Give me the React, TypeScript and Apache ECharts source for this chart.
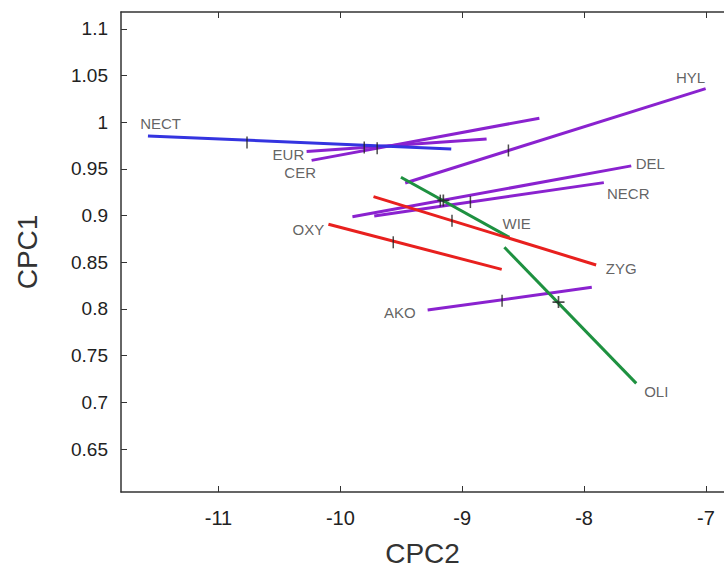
import React, { useEffect, useRef } from "react";
import * as echarts from "echarts";

// Groups (lines), in drawing order
const groups = ["EUR", "CER", "HYL", "DEL", "NECR", "AKO", "WIE", "OLI", "ZYG", "OXY", "NECT"];
const groupColor = ["purple", "purple", "purple", "purple", "purple", "purple", "green", "green", "red", "red", "blue"];

// Line end points (CPC2 = x, CPC1 = y)
const startX = [-10.277, -10.236, -9.468, -9.901, -9.722, -9.284, -9.503, -8.654, -9.728, -10.098, -11.579];
const startY = [0.9685, 0.9591, 0.9349, 0.8988, 0.8996, 0.7988, 0.9411, 0.866, 0.9203, 0.8907, 0.9853];
const endX = [-8.8, -8.367, -7.0025, -7.613, -7.838, -7.937, -8.613, -7.572, -7.901, -8.676, -9.09];
const endY = [0.9821, 1.0043, 1.036, 0.9532, 0.9353, 0.8232, 0.8767, 0.7203, 0.8471, 0.8424, 0.9714];

// Cross marks on each line
const markX = [-9.804, -9.698, -8.621, -9.18, -8.933, -8.673, -9.155, -8.21, -9.084, -9.566, -10.766];
const markY = [0.9729, 0.972, 0.9697, 0.916, 0.9145, 0.8088, 0.9162, 0.8074, 0.8945, 0.8714, 0.9782];

// Group labels
const labelX = [-10.426, -10.33, -7.126, -7.457, -7.638, -9.511, -8.553, -7.408, -7.695, -10.262, -11.475];
const labelY = [0.965, 0.9464, 1.0482, 0.956, 0.9239, 0.7964, 0.8917, 0.7113, 0.8435, 0.8846, 0.9982];

// Axes
const xTicks = [-11, -10, -9, -8, -7];
const yTicks = [0.65, 0.7, 0.75, 0.8, 0.85, 0.9, 0.95, 1, 1.05, 1.1];
const xRange = [-11.8, -6.852];
const yRange = [0.604, 1.118];

const palette: Record<string, string> = {
  purple: "#8a22cf",
  green: "#1e9140",
  red: "#e8201e",
  blue: "#3434e0",
};

const plusPath = "path://M4.3,0H5.7V4.3H10V5.7H5.7V10H4.3V5.7H0V4.3H4.3Z";

export default function App() {
  const ref = useRef<HTMLDivElement>(null);
  useEffect(() => {
    if (!ref.current) return;
    const chart = echarts.init(ref.current, undefined, { renderer: "svg" });
    const font = "'Liberation Sans', Arial, sans-serif";
    const axisColor = "#333";

    const lineSeries = groups.map((g, i) => ({
      type: "line",
      name: g,
      data: [
        [startX[i], startY[i]],
        [endX[i], endY[i]],
      ],
      symbol: "none",
      lineStyle: { color: palette[groupColor[i]], width: 3 },
      silent: true,
      z: 2,
    }));

    const vertMarks = groups
      .map((g, i) => (groupColor[i] === "green" ? null : [markX[i], markY[i]]))
      .filter((d) => d !== null);
    const plusMarks = groups
      .map((g, i) => (groupColor[i] === "green" ? [markX[i], markY[i]] : null))
      .filter((d) => d !== null);

    chart.setOption({
      animation: false,
      grid: { left: 121, right: 0, top: 12, bottom: 81 },
      xAxis: [
        {
          type: "value",
          min: xRange[0],
          max: xRange[1],
          position: "bottom",
          axisLine: { show: true, onZero: false, lineStyle: { color: axisColor, width: 1.5 } },
          axisTick: { show: true, inside: true, length: 6, customValues: xTicks, lineStyle: { color: axisColor } },
          axisLabel: {
            customValues: xTicks,
            fontSize: 20,
            margin: 16,
            color: "#222",
            fontFamily: font,
            formatter: (v: number) => String(v),
          },
          splitLine: { show: false },
          name: "CPC2",
          nameLocation: "middle",
          nameGap: 47,
          nameTextStyle: { fontSize: 28, color: "#333", fontFamily: font },
        },
        {
          type: "value",
          min: xRange[0],
          max: xRange[1],
          position: "top",
          axisLine: { show: true, onZero: false, lineStyle: { color: axisColor, width: 1.5 } },
          axisTick: { show: true, inside: true, length: 6, customValues: xTicks, lineStyle: { color: axisColor } },
          axisLabel: { show: false },
          splitLine: { show: false },
        },
      ],
      yAxis: [
        {
          type: "value",
          min: yRange[0],
          max: yRange[1],
          axisLine: { show: true, onZero: false, lineStyle: { color: axisColor, width: 1.5 } },
          axisTick: { show: true, inside: true, length: 6, customValues: yTicks, lineStyle: { color: axisColor } },
          axisLabel: {
            customValues: yTicks,
            fontSize: 19,
            margin: 13,
            color: "#222",
            fontFamily: font,
            formatter: (v: number) => String(parseFloat(v.toFixed(2))),
          },
          splitLine: { show: false },
          name: "CPC1",
          nameLocation: "middle",
          nameGap: 80,
          nameTextStyle: { fontSize: 28, color: "#333", fontFamily: font },
        },
      ],
      series: [
        ...lineSeries,
        {
          type: "scatter",
          data: vertMarks,
          symbol: "rect",
          symbolSize: [1.5, 12],
          itemStyle: { color: "#222" },
          silent: true,
          z: 5,
        },
        {
          type: "scatter",
          data: plusMarks,
          symbol: plusPath,
          symbolSize: 12,
          itemStyle: { color: "#222" },
          silent: true,
          z: 5,
        },
        {
          type: "scatter",
          data: groups.map((g, i) => [labelX[i], labelY[i], g]),
          symbolSize: 0,
          silent: true,
          z: 6,
          label: {
            show: true,
            position: "inside",
            formatter: (p: any) => p.data[2],
            fontSize: 15,
            color: "#3a3a3a",
            fontFamily: font,
          },
        },
      ],
    });
    return () => chart.dispose();
  }, []);
  return (
    <div
      ref={ref}
      style={{ position: "fixed", left: 0, top: 0, width: 724, height: 573, background: "#fff" }}
    />
  );
}
